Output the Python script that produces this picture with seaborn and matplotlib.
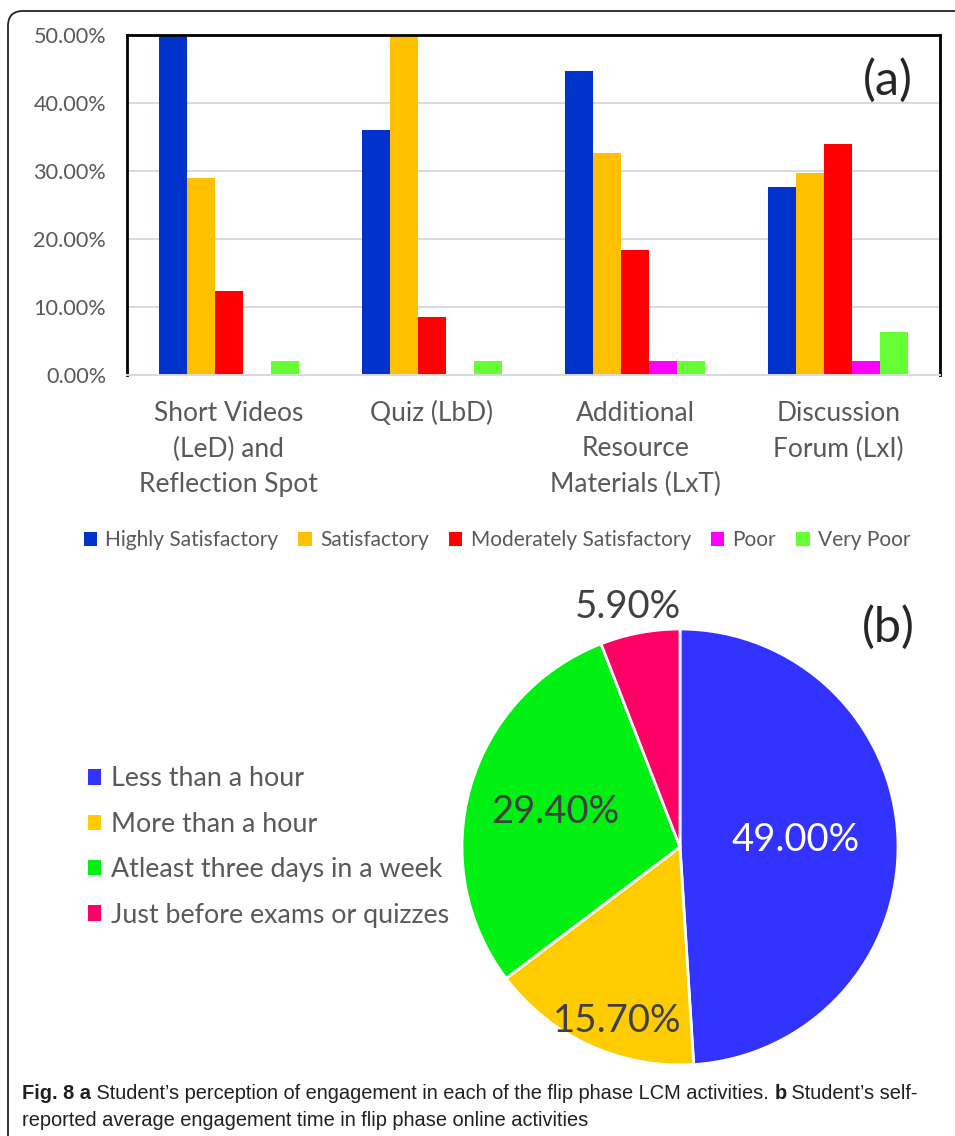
import matplotlib
matplotlib.use("Agg")
import matplotlib.pyplot as plt
import matplotlib.patches as mpatches
from matplotlib.ticker import FuncFormatter
import pandas as pd
import seaborn as sns

# (a) perception of engagement per activity, % of students
activities = ["Short Videos\n(LeD) and\nReflection Spot", "Quiz (LbD)",
              "Additional\nResource\nMaterials (LxT)", "Discussion\nForum (LxI)"]
ratings = ["Highly Satisfactory", "Satisfactory", "Moderately Satisfactory", "Poor", "Very Poor"]
highly = [50.0, 36.0, 44.7, 27.6]
satisf = [29.0, 50.0, 32.6, 29.7]
moder = [12.4, 8.5, 18.4, 34.0]
poor = [0.0, 0.0, 2.0, 2.0]
very_poor = [2.0, 2.0, 2.0, 6.3]
bar_colors = ["#0033CC", "#FFC000", "#FF0000", "#FF00FF", "#66FF33"]

# (b) average engagement time
time_labels = ["Less than a hour", "More than a hour",
               "Atleast three days in a week", "Just before exams or quizzes"]
time_shares = [49.0, 15.7, 29.4, 5.9]
pie_colors = ["#3333FF", "#FFCC00", "#00F014", "#FF0066"]

# where the % labels sit inside the pie (pie radius = 1)
pct_pos = [(0.53, 0.03), (-0.29, -0.80), (-0.57, 0.16), (-0.24, 1.10)]

sns.set_style("white")
plt.rcParams["font.family"] = ["Lato", "DejaVu Sans"]
grey = "#595959"

fig = plt.figure(figsize=(9.55, 11.36), dpi=100)

long = pd.DataFrame({
    "activity": activities * len(ratings),
    "rating": [r for r in ratings for _ in activities],
    "share": highly + satisf + moder + poor + very_poor,
})

ax = fig.add_axes([127 / 955, 1 - 375 / 1136, 813 / 955, 340 / 1136])
sns.barplot(data=long, x="activity", y="share", hue="rating", hue_order=ratings,
            palette=bar_colors, saturation=1, width=0.69, linewidth=0, ax=ax)
ax.set_ylim(0, 50)
ax.set_yticks(range(0, 51, 10))
ax.yaxis.set_major_formatter(FuncFormatter(lambda v, p: f"{v:.2f}%"))
ax.set_xlabel("")
ax.set_ylabel("")
ax.yaxis.grid(True, color="#d9d9d9", lw=1.4)
ax.set_axisbelow(True)
for s in ["left", "top", "right"]:
    ax.spines[s].set_color("black")
    ax.spines[s].set_linewidth(2)
ax.spines["bottom"].set_color("#d9d9d9")
ax.spines["bottom"].set_linewidth(1.4)
ax.tick_params(axis="y", length=0, pad=15, labelsize=15.6, labelcolor=grey)
ax.tick_params(axis="x", length=0, pad=19, labelsize=19, labelcolor=grey)
for lab in ax.get_xticklabels():
    lab.set_linespacing(1.5)

sns.move_legend(ax, "center", bbox_to_anchor=((497 - 127) / 813, -165 / 340),
                ncol=5, frameon=False, title=None, fontsize=15,
                handlelength=0.65, handleheight=0.65, handletextpad=0.4,
                columnspacing=0.95, borderpad=0, labelcolor=grey)

fig.text(888 / 955, 1 - 80 / 1136, "(a)", ha="center", va="center", fontsize=35)

# pie
pax = fig.add_axes([462 / 955, 1 - 1065 / 1136, 436 / 955, 436 / 1136])
wedges, texts, autotexts = pax.pie(
    time_shares, colors=pie_colors, startangle=90, counterclock=False,
    autopct="%.2f%%", wedgeprops=dict(edgecolor="white", linewidth=2),
    textprops=dict(fontsize=27.5, color="#404040"))
pax.set_xlim(-1, 1)
pax.set_ylim(-1, 1)
pax.set_aspect("equal")
for t, pos in zip(autotexts, pct_pos):
    t.set_position(pos)
    t.set_ha("center")
    t.set_va("center")
autotexts[0].set_color("white")

handles = [mpatches.Patch(facecolor=c, edgecolor="none") for c in pie_colors]
pax.legend(handles, time_labels, loc="center left",
           bbox_to_anchor=(88 / 955, 1 - 847 / 1136), bbox_transform=fig.transFigure,
           frameon=False, fontsize=19.3, handlelength=0.5, handleheight=0.5,
           handletextpad=0.35, labelspacing=0.76, borderpad=0, borderaxespad=0,
           labelcolor=grey)

fig.text(888 / 955, 1 - 627 / 1136, "(b)", ha="center", va="center", fontsize=35)

# outer frame
frame = mpatches.FancyBboxPatch((0.08, -0.3), 10, 11.36 - 0.11 + 0.3,
                                boxstyle="round,pad=0,rounding_size=0.15",
                                transform=fig.dpi_scale_trans, fill=False,
                                edgecolor="#222222", lw=1.3)
fig.add_artist(frame)

# caption with bold parts
cap = fig.add_axes([0, 0, 1, 1])
cap.axis("off")
cap_font = ["Liberation Sans"]
cap_size = 14.4
pieces = [("Fig. 8 a", "bold"),
          (" Student\u2019s perception of engagement in each of the flip phase LCM activities. ", "normal"),
          ("b", "bold"),
          (" Student\u2019s self-", "normal")]
prev = fig.text(22 / 955, 1 - 1103 / 1136, pieces[0][0], fontsize=cap_size,
                fontweight=pieces[0][1], family=cap_font, va="bottom", color="#231F20")
for txt, w in pieces[1:]:
    prev = cap.annotate(txt, xy=(1, 0), xycoords=prev, va="bottom", ha="left",
                        fontsize=cap_size, fontweight=w, family=cap_font, color="#231F20")
fig.text(22 / 955, 1 - 1130 / 1136, "reported average engagement time in flip phase online activities",
         fontsize=cap_size, family=cap_font, va="bottom", color="#231F20")

fig.savefig("out.png", dpi=100)
